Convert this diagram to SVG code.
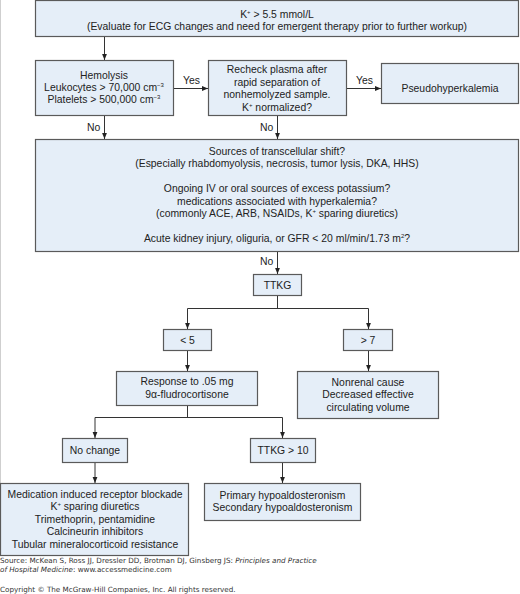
<svg xmlns="http://www.w3.org/2000/svg" width="520" height="594" viewBox="0 0 520 594">
<defs>
<marker id="ah" viewBox="0 0 10 10" refX="10" refY="5" markerWidth="6" markerHeight="6" orient="auto" markerUnits="userSpaceOnUse">
<path d="M0,1 L10,5 L0,9 z" fill="#222"/>
</marker>
<style>
.box{fill:#e5eef8;stroke:#5a5a5a;stroke-width:1.2}
.t{font-family:"Liberation Sans",Arial,sans-serif;font-size:10.4px;fill:#222;text-anchor:middle}
.l{font-family:"Liberation Sans",Arial,sans-serif;font-size:10.4px;fill:#222}
.c{stroke:#333;stroke-width:1;fill:none}
.a{stroke:#333;stroke-width:1;fill:none;marker-end:url(#ah)}
.s{font-family:"DejaVu Sans",Verdana,sans-serif;font-size:7.2px;fill:#333}
</style>
</defs>
<rect width="520" height="594" fill="#fff"/>
<line x1="0.5" y1="0" x2="0.5" y2="485" stroke="#cfcfcf" stroke-width="1"/>

<g id="n-top">
<rect class="box" x="35.5" y="0.5" width="483" height="36"/>
<text class="t" x="277" y="18">K<tspan font-size="6" dy="-4">+</tspan><tspan dy="4"> &gt; 5.5 mmol/L</tspan></text>
<text class="t" x="277" y="30">(Evaluate for ECG changes and need for emergent therapy prior to further workup)</text>
</g>

<g id="n-hemolysis">
<rect class="box" x="35.5" y="60.5" width="138" height="55"/>
<text class="t" x="104" y="79">Hemolysis</text>
<text class="t" x="104" y="91">Leukocytes &gt; 70,000 cm<tspan font-size="6" dy="-4">−3</tspan></text>
<text class="t" x="104" y="103">Platelets &gt; 500,000 cm<tspan font-size="6" dy="-4">−3</tspan></text>
</g>

<g id="n-recheck">
<rect class="box" x="208.5" y="60.5" width="138" height="55"/>
<text class="t" x="277" y="73">Recheck plasma after</text>
<text class="t" x="277" y="85.5">rapid separation of</text>
<text class="t" x="277" y="98">nonhemolyzed sample.</text>
<text class="t" x="277" y="110.5">K<tspan font-size="6" dy="-4">+</tspan><tspan dy="4"> normalized?</tspan></text>
</g>

<g id="n-pseudo">
<rect class="box" x="381.5" y="63.5" width="137" height="40"/>
<text class="t" x="450" y="92">Pseudohyperkalemia</text>
</g>

<g id="n-sources">
<rect class="box" x="35.5" y="139.5" width="483" height="112"/>
<text class="t" x="277" y="154.5">Sources of transcellular shift?</text>
<text class="t" x="277" y="167">(Especially rhabdomyolysis, necrosis, tumor lysis, DKA, HHS)</text>
<text class="t" x="277" y="192">Ongoing IV or oral sources of excess potassium?</text>
<text class="t" x="277" y="204.5">medications associated with hyperkalemia?</text>
<text class="t" x="277" y="217">(commonly ACE, ARB, NSAIDs, K<tspan font-size="6" dy="-4">+</tspan><tspan dy="4"> sparing diuretics)</tspan></text>
<text class="t" x="277" y="241.5">Acute kidney injury, oliguria, or GFR &lt; 20 ml/min/1.73 m<tspan font-size="6" dy="-4">2</tspan><tspan dy="4">?</tspan></text>
</g>

<g id="n-ttkg">
<rect class="box" x="253.5" y="274.5" width="48" height="21"/>
<text class="t" x="277.5" y="288.5">TTKG</text>
</g>

<g id="n-lt5">
<rect class="box" x="163.5" y="329.5" width="48" height="21"/>
<text class="t" x="187.5" y="343.5">&lt; 5</text>
</g>

<g id="n-gt7">
<rect class="box" x="343.5" y="329.5" width="49" height="21"/>
<text class="t" x="368" y="343.5">&gt; 7</text>
</g>

<g id="n-response">
<rect class="box" x="116.5" y="371.5" width="141" height="34"/>
<text class="t" x="187" y="385">Response to .05 mg</text>
<text class="t" x="187" y="397.5">9α-fludrocortisone</text>
</g>

<g id="n-nonrenal">
<rect class="box" x="297.5" y="371.5" width="141" height="47"/>
<text class="t" x="368" y="385.5">Nonrenal cause</text>
<text class="t" x="368" y="398">Decreased effective</text>
<text class="t" x="368" y="410.5">circulating volume</text>
</g>

<g id="n-nochange">
<rect class="box" x="62.5" y="438.5" width="65" height="24"/>
<text class="t" x="95" y="454">No change</text>
</g>

<g id="n-ttkg10">
<rect class="box" x="250.5" y="438.5" width="65" height="24"/>
<text class="t" x="283" y="454">TTKG &gt; 10</text>
</g>

<g id="n-medication">
<rect class="box" x="0.5" y="483.5" width="188" height="72"/>
<text class="t" x="95" y="497.5">Medication induced receptor blockade</text>
<text class="t" x="95" y="510">K<tspan font-size="6" dy="-4">+</tspan><tspan dy="4"> sparing diuretics</tspan></text>
<text class="t" x="95" y="522.5">Trimethoprin, pentamidine</text>
<text class="t" x="95" y="535">Calcineurin inhibitors</text>
<text class="t" x="95" y="547.5">Tubular mineralocorticoid resistance</text>
</g>

<g id="n-primary">
<rect class="box" x="204.5" y="483.5" width="156" height="37"/>
<text class="t" x="282.5" y="498.5">Primary hypoaldosteronism</text>
<text class="t" x="282.5" y="511">Secondary hypoaldosteronism</text>
</g>

<g id="connectors">
<line class="a" x1="104.5" y1="37" x2="104.5" y2="60"/>
<line class="a" x1="174" y1="88.5" x2="208" y2="88.5"/>
<text class="l" x="183" y="84">Yes</text>
<line class="a" x1="347" y1="88.5" x2="381" y2="88.5"/>
<text class="l" x="356" y="84">Yes</text>
<line class="a" x1="104.5" y1="116" x2="104.5" y2="139"/>
<text class="l" x="87" y="131">No</text>
<line class="a" x1="277.5" y1="116" x2="277.5" y2="139"/>
<text class="l" x="260" y="131">No</text>
<line class="a" x1="277.5" y1="252" x2="277.5" y2="274"/>
<text class="l" x="260" y="265">No</text>
<path class="c" d="M277.5,296 V308.5 M187.5,308.5 H368.5"/>
<line class="a" x1="187.5" y1="308.5" x2="187.5" y2="329"/>
<line class="a" x1="368.5" y1="308.5" x2="368.5" y2="329"/>
<line class="a" x1="187.5" y1="351" x2="187.5" y2="371"/>
<line class="a" x1="368.5" y1="351" x2="368.5" y2="371"/>
<path class="c" d="M187.5,406 V417.5 M95,417.5 H282.5"/>
<line class="a" x1="95" y1="417.5" x2="95" y2="438"/>
<line class="a" x1="282.5" y1="417.5" x2="282.5" y2="438"/>
<line class="a" x1="95" y1="463" x2="95" y2="483"/>
<line class="a" x1="282.5" y1="463" x2="282.5" y2="483"/>
</g>

<text class="s" x="0" y="563">Source: McKean S, Ross JJ, Dressler DD, Brotman DJ, Ginsberg JS: <tspan font-style="italic">Principles and Practice</tspan></text>
<text class="s" x="0" y="572"><tspan font-style="italic">of Hospital Medicine</tspan>: www.accessmedicine.com</text>
<text class="s" x="0" y="592">Copyright © The McGraw-Hill Companies, Inc. All rights reserved.</text>
</svg>
